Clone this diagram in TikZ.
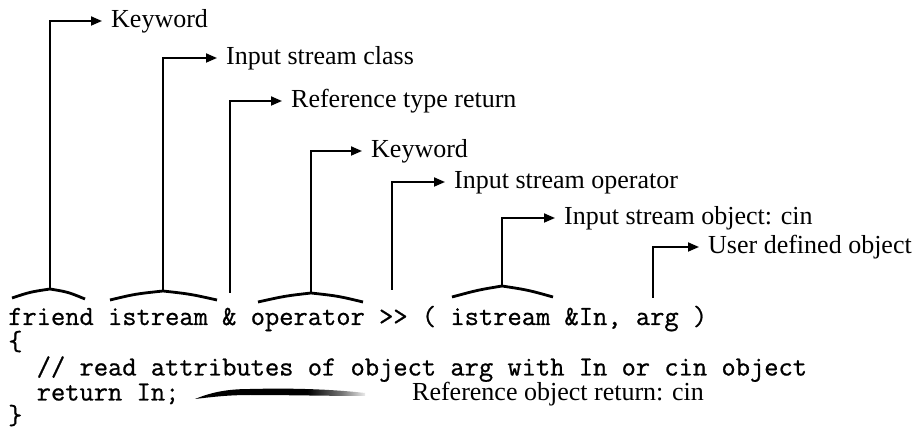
\documentclass[tikz,border=0pt]{standalone}
\usepackage{fontspec}
\setmainfont{Liberation Serif}
\newfontfamily\codefont{Latin Modern Mono}[Ligatures=TeXOff,FakeBold=0.8]
\usetikzlibrary{arrows.meta}
\pgfdeclarehorizontalshading{brushfade}{100bp}{color(0bp)=(black); color(25bp)=(black); color(58bp)=(black); color(68bp)=(black!55); color(75bp)=(black!8); color(100bp)=(white)}
\tikzset{
  lbl/.style={anchor=west, inner xsep=9pt, inner ysep=0pt, text height=17pt, text depth=4pt, font=\fontsize{26}{26}\selectfont},
  plainlbl/.style={anchor=base west, inner sep=0pt, font=\fontsize{26}{26}\selectfont},
  codeline/.style={anchor=base west, inner sep=0pt, font=\codefont\fontsize{27.7}{27.7}\selectfont},
  conn/.style={line width=1.8pt, -{Triangle[length=11pt,width=9pt]}},
  bracepath/.style={line width=2.8pt},
}
\begin{document}
\begin{tikzpicture}[x=1pt,y=-1pt]
\useasboundingbox (0,0) rectangle (919,430);
\fill[white] (0,0) rectangle (919,430);

% code lines
\node[codeline] (c1) at (8,325) {friend istream \& operator >> ( istream \&In, arg )};
\node[codeline] (c2) at (8,350) {\{};
\node[codeline] (c3) at (8,375.5) {\phantom{xx}// read attributes of object arg with In or cin object};
\node[codeline] (c4) at (8,400.5) {\phantom{xx}return In;};
\node[codeline] (c5) at (8,424) {\}};

% brace peaks / stems
\coordinate (p1) at (50,289);
\coordinate (p2) at (163,291);
\coordinate (p3) at (230,293);
\coordinate (p4) at (311,293);
\coordinate (p5) at (392,290);
\coordinate (p6) at (502,286);
\coordinate (p7) at (653,298);

% braces
\draw[bracepath] (12,298) .. controls (30,292) .. (p1) .. controls (68,292) .. (85,299);
\draw[bracepath] (110,300) .. controls (135,294) .. (p2) .. controls (190,294) .. (217,300);
\draw[bracepath] (258,302) .. controls (285,296) .. (p4) .. controls (338,296) .. (363,302);
\draw[bracepath] (452,297) .. controls (478,290) .. (p6) .. controls (528,290) .. (553,297);

% labels
\node[lbl] (l1) at (102,21) {Keyword};
\node[lbl] (l2) at (217,58) {Input stream class};
\node[lbl] (l3) at (282,101) {Reference type return};
\node[lbl] (l4) at (362,151) {Keyword};
\node[lbl] (l5) at (445,182) {Input stream operator};
\node[lbl] (l6) at (555,218) {Input stream object: cin};
\node[lbl] (l7) at (699,247) {User defined object};
\node[plainlbl] (l8) at (412,401) {Reference object return: cin};

% connectors
\draw[conn] (p1) |- (l1.west);
\draw[conn] (p2) |- (l2.west);
\draw[conn] (p3) |- (l3.west);
\draw[conn] (p4) |- (l4.west);
\draw[conn] (p5) |- (l5.west);
\draw[conn] (p6) |- (l6.west);
\draw[conn] (p7) |- (l7.west);

% brush stroke from "return In;"
\shade[shading=brushfade] (195,399) .. controls (212,392) and (228,389) .. (250,389)
  .. controls (290,388) and (330,389) .. (365,393) -- (365,396)
  .. controls (330,396) and (290,395) .. (250,395)
  .. controls (228,395) and (212,397) .. (195,399) -- cycle;
\end{tikzpicture}
\end{document}
